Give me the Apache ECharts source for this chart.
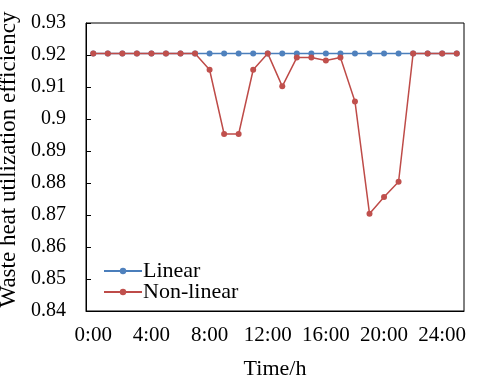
<!DOCTYPE html>
<html>
<head>
    <meta charset="utf-8"/>
    <title>ECharts</title>
    <script src="https://cdn.jsdelivr.net/npm/echarts@6/dist/echarts.min.js"></script>
    <style type="text/css">
        body{ margin:0; background:#fff; }
    </style>
</head>
<body>
<div id="main" style="width: 480px;height:380px;"></div>
<script type="text/javascript">
    // hours 0..25, one point per hour
    var hours = [];
    for (var h = 0; h < 26; h++) { hours.push(h + ':00'); }

    var linear = [0.9205, 0.9205, 0.9205, 0.9205, 0.9205, 0.9205, 0.9205, 0.9205, 0.9205, 0.9205,
                  0.9205, 0.9205, 0.9205, 0.9205, 0.9205, 0.9205, 0.9205, 0.9205, 0.9205, 0.9205,
                  0.9205, 0.9205, 0.9205, 0.9205, 0.9205, 0.9205];
    var nonLinear = [0.9205, 0.9205, 0.9205, 0.9205, 0.9205, 0.9205, 0.9205, 0.9205, 0.9154, 0.8953,
                     0.8953, 0.9154, 0.9205, 0.9102, 0.9192, 0.9192, 0.9183, 0.9192, 0.9055, 0.8704,
                     0.8756, 0.8804, 0.9205, 0.9205, 0.9205, 0.9205];

    var font = 'Liberation Serif';
    var myChart = echarts.init(document.getElementById('main'));

    var option = {
        backgroundColor: '#fff',
        animation: false,
        textStyle: { fontFamily: font, color: '#000' },
        grid: {
            left: 86, right: 16, top: 23, bottom: 69,
            show: true, borderColor: '#000', borderWidth: 1,
            outerBoundsMode: 'none'
        },
        legend: {
            left: 98, top: 255,
            orient: 'vertical',
            itemWidth: 38, itemHeight: 8, itemGap: -1,
            textStyle: { fontFamily: font, fontSize: 22, color: '#000', padding: [0, 0, 0, -4] },
            data: ['Linear', 'Non-linear']
        },
        xAxis: {
            type: 'category',
            data: hours,
            boundaryGap: true,
            name: 'Time/h',
            nameLocation: 'middle',
            nameGap: 47,
            nameTextStyle: { fontFamily: font, fontSize: 22, color: '#000' },
            axisLine: { lineStyle: { color: '#000', width: 1 } },
            axisTick: { inside: true, interval: 3, length: 5, lineStyle: { color: '#000' } },
            axisLabel: { interval: 3, fontFamily: font, fontSize: 21, color: '#000', margin: 14 },
            splitLine: { show: false }
        },
        yAxis: {
            type: 'value',
            min: 0.84, max: 0.93, interval: 0.01,
            name: 'Waste heat utilization efficiency',
            nameLocation: 'middle',
            nameGap: 58,
            nameTextStyle: { fontFamily: font, fontSize: 23, color: '#000', padding: [0, 0, 0, 15] },
            axisLine: { show: true, lineStyle: { color: '#000', width: 1 } },
            axisTick: { show: true, inside: true, length: 5, lineStyle: { color: '#000' } },
            axisLabel: { fontFamily: font, fontSize: 20, color: '#000', margin: 20 },
            splitLine: { show: false }
        },
        series: [
            {
                name: 'Linear',
                type: 'line',
                data: linear,
                symbol: 'circle', symbolSize: 6,
                lineStyle: { color: '#4A7EBB', width: 1.5 },
                itemStyle: { color: '#4F81BD' },
                z: 2
            },
            {
                name: 'Non-linear',
                type: 'line',
                data: nonLinear,
                symbol: 'circle', symbolSize: 6,
                lineStyle: { color: '#BE4B48', width: 1.5 },
                itemStyle: { color: '#C0504D' },
                z: 3
            }
        ]
    };
    myChart.setOption(option);
</script>
</body>
</html>
